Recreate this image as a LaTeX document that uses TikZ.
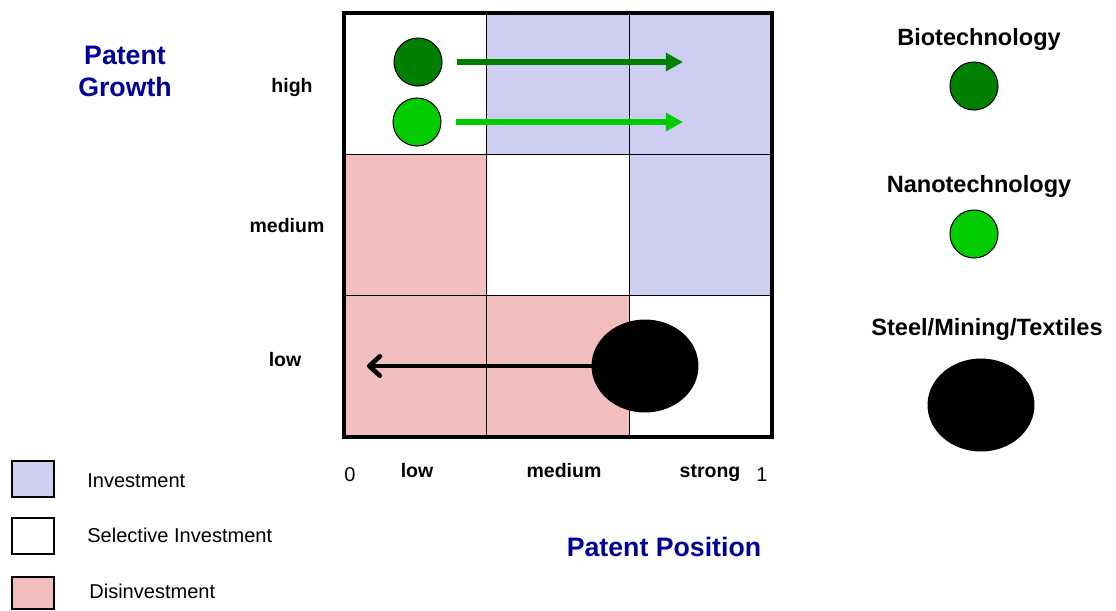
\documentclass[tikz,border=0pt]{standalone}
\usepackage{fontspec}
\setmainfont{Liberation Sans}
\usetikzlibrary{arrows.meta, shapes.geometric, positioning}
\definecolor{pnavy}{RGB}{0, 0, 153}
\definecolor{pdark}{RGB}{0, 128, 0}
\definecolor{plight}{RGB}{0, 204, 0}
\definecolor{pinvest}{RGB}{206, 206, 242}
\definecolor{pdisinv}{RGB}{242, 190, 190}

\begin{document}
\begin{tikzpicture}[
  x=0.02cm, y=-0.02cm,
  cell/.style={draw=black, line width=0.7pt, fill=#1},
  dot/.style={circle, draw=black, line width=0.6pt, fill=#1,
              minimum size=0.96cm, inner sep=0pt},
  blob/.style={ellipse, fill=black, minimum width=2.14cm,
               minimum height=1.86cm, inner sep=0pt},
  axlbl/.style={font=\fontsize{11.1}{13}\selectfont\bfseries, anchor=base},
  keylbl/.style={font=\fontsize{11.4}{13}\selectfont, anchor=base west,
                 inner sep=0pt},
  techlbl/.style={font=\fontsize{13.4}{16}\selectfont\bfseries, anchor=base},
  title/.style={font=\fontsize{15.2}{18.2}\selectfont\bfseries, text=pnavy},
  garr/.style={-{Triangle[length=9.8pt, width=10pt]}, line width=3.4pt,
               draw=#1, shorten <=8.5pt},
  barr/.style={-{Straight Barb[round, length=6pt, width=11pt]},
               line width=2.6pt, line cap=round}
]
\useasboundingbox (0,0) rectangle (1116,610);

% portfolio grid
\foreach \c/\r/\f in {0/0/white, 1/0/pinvest, 2/0/pinvest,
                      0/1/pdisinv, 1/1/white, 2/1/pinvest,
                      0/2/pdisinv, 1/2/pdisinv, 2/2/white}
  \draw[cell=\f] ({344+142.7*\c}, {13+141.3*\r}) rectangle ++(142.7,141.3);
\draw[line width=1.8pt] (344,13) rectangle (772,437);

% axis texts
\node[title, align=center] (growth) at (125,71) {Patent\\Growth};
\node[axlbl] (ghigh) at (292,92) {high};
\node[axlbl] (gmed)  at (287,232) {medium};
\node[axlbl] (glow)  at (285,366) {low};
\node[keylbl, anchor=base] (pzero) at (350,481) {0};
\node[axlbl] (plow)    at (417,477) {low};
\node[axlbl] (pmed)    at (564,477) {medium};
\node[axlbl] (pstrong) at (710,477) {strong};
\node[keylbl, anchor=base] (pone) at (762,481) {1};
\node[title, anchor=base] (position) at (664,556) {Patent Position};

% sectors in the grid
\node[dot=pdark]  (bio)   at (418,62) {};
\node[dot=plight] (nano)  at (417,122) {};
\node[blob]       (steel) at (645,366) {};
\coordinate (bioend)   at (683,62);
\coordinate (nanoend)  at (683,122);
\coordinate (steelend) at (367,366);
\draw[garr=pdark]  (bio.east)  -- (bioend);
\draw[garr=plight] (nano.east) -- (nanoend);
\draw[barr] (steel.west) -- (steelend);

% sector key
\node[techlbl] (kbiolbl)   at (979,45)  {Biotechnology};
\node[dot=pdark]  (kbio)   at (974,86)  {};
\node[techlbl] (knanolbl)  at (979,192) {Nanotechnology};
\node[dot=plight] (knano)  at (974,234) {};
\node[techlbl] (ksteellbl) at (987,335) {Steel/Mining/Textiles};
\node[blob]       (ksteel) at (981,405) {};

% strategy key
\draw[cell=pinvest] (12,461) rectangle (54,497);
\draw[cell=white]   (12,518) rectangle (54,554);
\draw[cell=pdisinv] (12,577) rectangle (54,609);
\node[keylbl] (kinv)  at (87,487) {Investment};
\node[keylbl] (ksel)  at (87,542) {Selective Investment};
\node[keylbl] (kdis)  at (89,598) {Disinvestment};
\end{tikzpicture}
\end{document}
